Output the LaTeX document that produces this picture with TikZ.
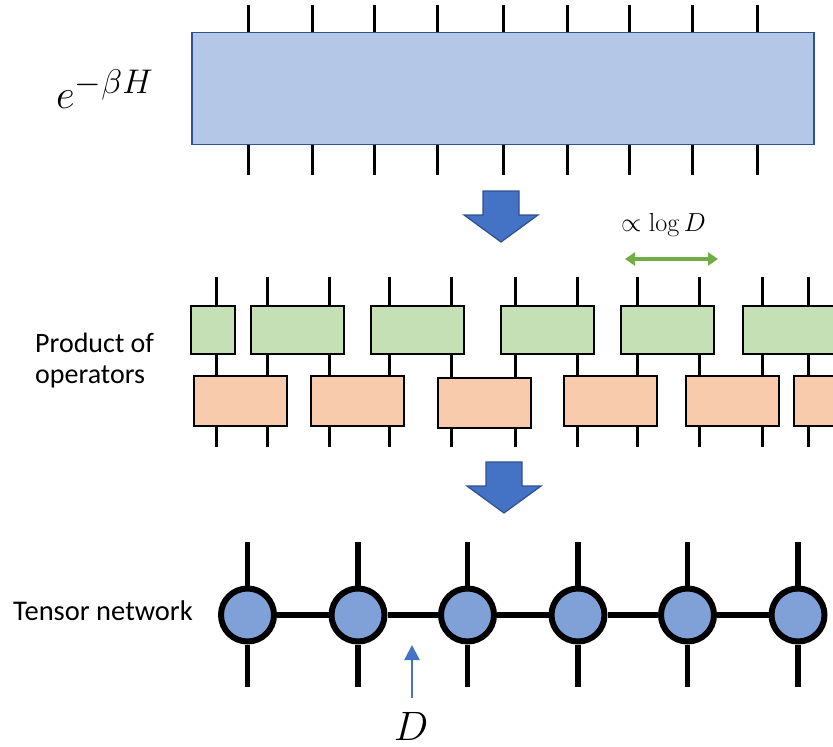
\documentclass[tikz,border=0pt]{standalone}
\usepackage[no-math]{fontspec}
\setmainfont{Carlito}
\usepackage{amsmath}
\usepackage{graphicx}
\usetikzlibrary{arrows.meta}
\definecolor{opblue}{RGB}{180,199,231}
\definecolor{opedge}{RGB}{47,82,143}
\definecolor{gategreen}{RGB}{197,224,180}
\definecolor{gateorange}{RGB}{248,203,173}
\definecolor{sitefill}{RGB}{128,160,216}
\definecolor{flowblue}{RGB}{68,114,196}
\definecolor{rangegreen}{RGB}{112,173,71}
\tikzset{
  leg/.style={line width=3pt},
  fatleg/.style={line width=5.5pt},
  fullop/.style={draw=opedge, fill=opblue, line width=1.5pt, minimum width=622pt, minimum height=112pt, inner sep=0pt},
  gate/.style={draw, line width=2pt, inner sep=0pt, minimum width=93pt},
  upgate/.style={gate, fill=gategreen, minimum height=48pt},
  downgate/.style={gate, fill=gateorange, minimum height=50pt},
  site/.style={circle, draw, fill=sitefill, line width=6pt, minimum size=53pt, inner sep=0pt},
  flowdown/.pic={
    \draw[fill=flowblue, draw=opedge, line width=1.2pt]
      (-18,0) -- (18,0) -- (18,24) -- (37,24) -- (0,51) -- (-37,24) -- (-18,24) -- cycle;
  },
  textlab/.style={anchor=base west, inner sep=0pt, font=\fontsize{28.5}{31}\selectfont}
}
\begin{document}
\begin{tikzpicture}[x=1pt, y=-1pt]
\useasboundingbox (0,0) rectangle (833,747);

% e^{-beta H}
\foreach \x in {248,312,374,437,503,567,629,692,757} {
  \coordinate (tt\x) at (\x,5);
  \coordinate (tb\x) at (\x,175);
  \draw[leg] (tt\x) -- (tb\x);
}
\node[fullop] (expH) at (503,88.5) {};
\node[anchor=base west, inner sep=0pt] (expHlab) at (56,108) {\scalebox{1.65}{\Huge $e^{-\beta H}$}};

\pic at (501,191) {flowdown};

% product of operators
\foreach \x in {216,267,329,389,451,515,577,637,699,762,808} {
  \coordinate (mt\x) at (\x,277);
  \coordinate (mb\x) at (\x,447);
  \draw[leg] (mt\x) -- (mb\x);
}
\node[upgate, minimum width=44pt] (G1) at (213,330) {};
\node[upgate] (G2) at (297,330) {};
\node[upgate] (G3) at (417.5,330) {};
\node[upgate] (G4) at (547.5,330) {};
\node[upgate] (G5) at (667,330) {};
\node[upgate] (G6) at (789.5,330) {};
\node[downgate] (O1) at (240.5,401) {};
\node[downgate] (O2) at (357.5,401) {};
\node[downgate] (O3) at (484.5,403) {};
\node[downgate] (O4) at (610.5,401) {};
\node[downgate] (O5) at (732.5,401) {};
\node[downgate] (O6) at (840.5,401) {};
\node[textlab, align=left, font=\fontsize{28}{31}\selectfont] (prodlab) at (35,383) {Product of\\operators};

\coordinate (rangeL) at (625,259);
\coordinate (rangeR) at (718,259);
\draw[rangegreen, line width=4pt, {Triangle[width=13pt,length=10pt]}-{Triangle[width=13pt,length=10pt]}] (rangeL) -- (rangeR);
\node[anchor=base west, inner sep=0pt] (rangelab) at (621,231) {\scalebox{1.05}{\Huge $\propto\log D$}};

\pic at (504,462) {flowdown};

% tensor network
\node[site] (S1) at (247.5,615) {};
\node[site] (S2) at (358,615) {};
\node[site] (S3) at (467.5,615) {};
\node[site] (S4) at (578,615) {};
\node[site] (S5) at (687.5,615) {};
\node[site] (S6) at (798,615) {};
\foreach \i/\x in {1/247.5,2/358,3/467.5,4/578,5/687.5,6/798} {
  \coordinate (st\i) at (\x,542);
  \coordinate (sb\i) at (\x,687);
  \draw[fatleg] (st\i) -- (S\i) (S\i) -- (sb\i);
}
\path[fatleg] (S1) edge (S2)
              (S2) edge (S3)
              (S3) edge (S4)
              (S4) edge (S5)
              (S5) edge (S6);
\node[textlab] (tnlab) at (13,620) {Tensor network};

\coordinate (bondtail) at (412,698);
\coordinate (bondtip) at (412,645);
\draw[flowblue, line width=2.5pt, -{Triangle[width=15pt,length=15pt]}] (bondtail) -- (bondtip);
\node[anchor=base, inner sep=0pt] (bondlab) at (411,740) {\scalebox{1.65}{\Huge $D$}};
\end{tikzpicture}
\end{document}
